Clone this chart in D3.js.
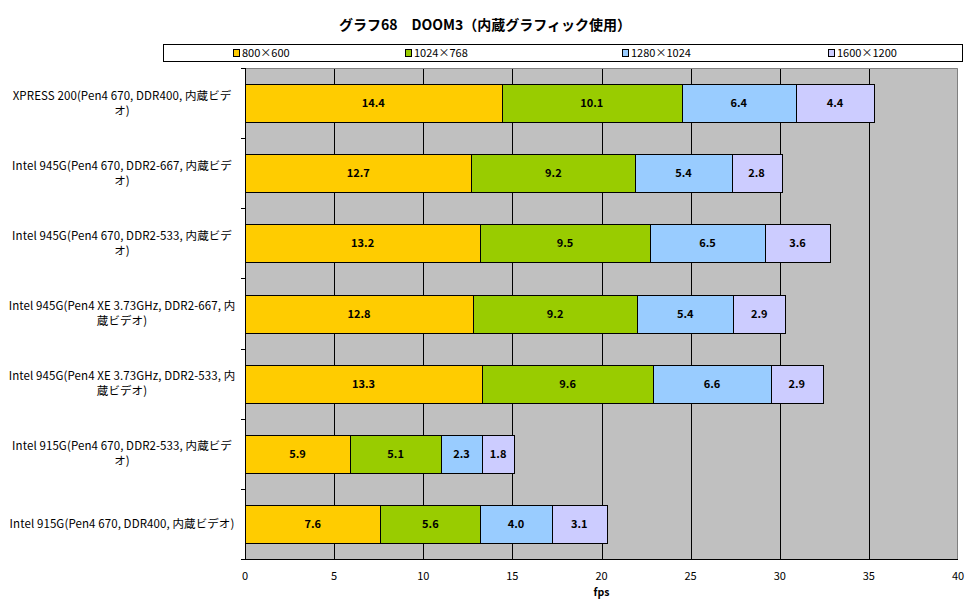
<!DOCTYPE html>
<html>
<head>
<meta charset="utf-8">
<script src="https://cdn.jsdelivr.net/npm/d3@7"></script>
<style>
  body { margin: 0; background: #fff; }
  text { font-family: "Noto Sans CJK JP", "Noto Sans", sans-serif; }
</style>
</head>
<body>
<div id="my_dataviz"></div>
<script>
// chart data
var categories = [
  "XPRESS 200(Pen4 670, DDR400, 内蔵ビデ\nオ)",
  "Intel 945G(Pen4 670, DDR2-667, 内蔵ビデ\nオ)",
  "Intel 945G(Pen4 670, DDR2-533, 内蔵ビデ\nオ)",
  "Intel 945G(Pen4 XE 3.73GHz, DDR2-667, 内\n蔵ビデオ)",
  "Intel 945G(Pen4 XE 3.73GHz, DDR2-533, 内\n蔵ビデオ)",
  "Intel 915G(Pen4 670, DDR2-533, 内蔵ビデ\nオ)",
  "Intel 915G(Pen4 670, DDR400, 内蔵ビデオ)"
];
var seriesNames = ["800×600", "1024×768", "1280×1024", "1600×1200"];
var seriesColors = ["#FFCC00", "#99CC00", "#99CCFF", "#CCCCFF"];
var s800 = [14.4, 12.7, 13.2, 12.8, 13.3, 5.9, 7.6];
var s1024 = [10.1, 9.2, 9.5, 9.2, 9.6, 5.1, 5.6];
var s1280 = [6.4, 5.4, 6.5, 5.4, 6.6, 2.3, 4.0];
var s1600 = [4.4, 2.8, 3.6, 2.9, 2.9, 1.8, 3.1];
var xTicks = [0, 5, 10, 15, 20, 25, 30, 35, 40];

var W = 970, H = 604;
var margin = {top: 68, right: 12, bottom: 45, left: 245},
    width = W - margin.left - margin.right,
    height = H - margin.top - margin.bottom;

var svgRoot = d3.select("#my_dataviz")
  .append("svg")
    .attr("width", W)
    .attr("height", H);

// title
svgRoot.append("text")
  .attr("x", 485).attr("y", 30)
  .attr("text-anchor", "middle")
  .style("font-size", "14px")
  .style("font-weight", "bold")
  .text("グラフ68　DOOM3（内蔵グラフィック使用）");

// legend
var legend = svgRoot.append("g");
legend.append("rect")
  .attr("x", 163.5).attr("y", 44.5)
  .attr("width", 799).attr("height", 17)
  .attr("fill", "#fff").attr("stroke", "#000");
var legendX = [233, 405, 622, 828];
seriesNames.forEach(function(name, i) {
  legend.append("rect")
    .attr("x", legendX[i] + 0.5).attr("y", 49.5)
    .attr("width", 6).attr("height", 7)
    .attr("fill", seriesColors[i]).attr("stroke", "#000");
  legend.append("text")
    .attr("x", legendX[i] + 9).attr("y", 57)
    .style("font-size", "11px")
    .text(name);
});

var svg = svgRoot.append("g")
  .attr("transform", "translate(" + margin.left + "," + margin.top + ")");

var x = d3.scaleLinear().domain([0, 40]).range([0, width]);
var y = d3.scaleBand().domain(d3.range(categories.length)).range([0, height]).paddingInner(0.46).paddingOuter(0.23);

// plot background
svg.append("rect")
  .attr("width", width).attr("height", height)
  .attr("fill", "#C0C0C0");

// gridlines
svg.selectAll("line.grid")
  .data(xTicks.slice(1, -1))
  .enter().append("line")
    .attr("class", "grid")
    .attr("x1", function(d) { return Math.round(x(d)) + 0.5; })
    .attr("x2", function(d) { return Math.round(x(d)) + 0.5; })
    .attr("y1", 0).attr("y2", height)
    .attr("stroke", "#000");

// right/top border
svg.append("path")
  .attr("d", "M0.5,0.5H" + (width - 0.5) + "V" + height)
  .attr("fill", "none").attr("stroke", "#808080");

// stacked bars
var rows = categories.map(function(c, i) {
  return {i: i, a: s800[i], b: s1024[i], c: s1280[i], d: s1600[i]};
});
var stack = d3.stack().keys(["a", "b", "c", "d"])(rows);

stack.forEach(function(layer, k) {
  var g = svg.append("g");
  g.selectAll("rect")
    .data(layer)
    .enter().append("rect")
      .attr("x", function(d) { return Math.round(x(d[0])) + 0.5; })
      .attr("y", function(d) { return Math.round(y(d.data.i)) + 0.5; })
      .attr("width", function(d) { return Math.round(x(d[1])) - Math.round(x(d[0])); })
      .attr("height", Math.round(y.bandwidth()))
      .attr("fill", seriesColors[k])
      .attr("stroke", "#000");
  g.selectAll("text")
    .data(layer)
    .enter().append("text")
      .attr("x", function(d) { return (x(d[0]) + x(d[1])) / 2; })
      .attr("y", function(d) { return y(d.data.i) + y.bandwidth() / 2 + 4; })
      .attr("text-anchor", "middle")
      .style("font-size", "11px")
      .style("font-weight", "bold")
      .text(function(d) { return (d[1] - d[0]).toFixed(1); });
});

// x axis
var xAxis = svg.append("g")
  .attr("transform", "translate(0," + height + ")");
xAxis.append("line")
  .attr("x1", 0).attr("x2", width)
  .attr("y1", 0.5).attr("y2", 0.5)
  .attr("stroke", "#000");
xAxis.selectAll("text")
  .data(xTicks)
  .enter().append("text")
    .attr("x", function(d) { return x(d); })
    .attr("y", 21)
    .attr("text-anchor", "middle")
    .style("font-size", "11px")
    .text(function(d) { return d; });
xAxis.append("text")
  .attr("x", width / 2).attr("y", 37)
  .attr("text-anchor", "middle")
  .style("font-size", "10.5px")
  .style("font-weight", "bold")
  .text("fps");

// y axis
var yAxis = svg.append("g");
yAxis.append("line")
  .attr("x1", 0.5).attr("x2", 0.5)
  .attr("y1", 0).attr("y2", height + 1)
  .attr("stroke", "#000");
var step = height / categories.length;
yAxis.selectAll("line.tick")
  .data(d3.range(categories.length + 1))
  .enter().append("line")
    .attr("class", "tick")
    .attr("x1", -4).attr("x2", 0)
    .attr("y1", function(d) { return Math.round(d * step) + 0.5; })
    .attr("y2", function(d) { return Math.round(d * step) + 0.5; })
    .attr("stroke", "#000");

categories.forEach(function(label, i) {
  var lines = label.split("\n");
  var cy = y(i) + y.bandwidth() / 2;
  var t = yAxis.append("text")
    .attr("text-anchor", "middle")
    .style("font-size", "11.5px")
    .style("letter-spacing", "0.1px");
  lines.forEach(function(line, j) {
    t.append("tspan")
      .attr("x", -123)
      .attr("y", cy + 4 + (j - (lines.length - 1) / 2) * 15)
      .text(line);
  });
});
</script>
</body>
</html>
